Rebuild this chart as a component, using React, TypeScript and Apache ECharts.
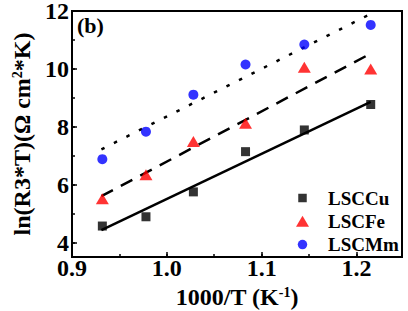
import React, { useEffect, useRef } from "react";
import * as echarts from "echarts";

// 1000/T (K^-1) for each measuring temperature
const invT = [0.932, 0.978, 1.028, 1.083, 1.145, 1.215];

// ln(R3*T) values per cathode
const lsccu = [4.57, 4.89, 5.75, 7.14, 7.89, 8.77];
const lscfe = [5.51, 6.34, 7.49, 8.12, 10.06, 10.0];
const lscmm = [6.88, 7.83, 9.11, 10.15, 10.84, 11.52];

// Linear fit end points
const fitX = [0.931, 1.215];
const fitCu = [4.43, 8.86];
const fitFe = [5.6, 10.53];
const fitMmX = [0.931, 1.212];
const fitMm = [7.22, 11.85];

const seriesNames = ["LSCCu", "LSCFe", "LSCMm"];
const xTickLabels = ["0.9", "1.0", "1.1", "1.2"];
const yTickLabels = ["4", "6", "8", "10", "12"];

// Legend icons share one 13x11 frame (leading moves fix the bounds) so the
// marks keep their own sizes inside the legend box.
const legendIcons = [
  "path://M0,0M13,11M2.25,1.25h8.5v8.5h-8.5z",
  "path://M0,0M13,11M6.5,0L13,11L0,11z",
  "path://M0,0M13,11M1.75,5.5a4.75,4.75 0 1,0 9.5,0a4.75,4.75 0 1,0 -9.5,0z",
];

const FONT = "'Liberation Serif', 'Times New Roman', serif";

const pairs = (xs: number[], ys: number[]) => xs.map((x, i) => [x, ys[i]]);

export default function App() {
  const ref = useRef<HTMLDivElement>(null);

  useEffect(() => {
    document.body.style.margin = "0";
    if (!ref.current) return;
    const chart = echarts.init(ref.current, null, { renderer: "svg" });

    const xFmt = (v: number) => {
      const s = v.toFixed(1);
      return Math.abs(v - parseFloat(s)) < 1e-6 && xTickLabels.includes(s) ? s : "";
    };
    const yFmt = (v: number) => {
      const s = String(Math.round(v));
      return Math.abs(v - Math.round(v)) < 1e-6 && yTickLabels.includes(s) ? s : "";
    };

    const fitLine = (xs: number[], ys: number[], type: any) => ({
      type: "line",
      data: pairs(xs, ys),
      showSymbol: false,
      symbol: "none",
      silent: true,
      lineStyle: { color: "#000", width: 2.5, type },
      z: 2,
    });

    const bold = { fontFamily: FONT, fontWeight: "bold" as const, color: "#000" };

    chart.setOption({
      animation: false,
      backgroundColor: "#fff",
      grid: {
        left: 72,
        right: 6,
        top: 11,
        bottom: 54,
        show: true,
        borderColor: "#000",
        borderWidth: 2,
        backgroundColor: "transparent",
        outerBoundsMode: "none",
      },
      xAxis: [
        {
          type: "value",
          min: 0.9,
          max: 1.248,
          interval: 0.05,
          axisLine: { show: true, lineStyle: { color: "#000", width: 2 } },
          axisTick: { show: true, inside: true, length: 3, lineStyle: { color: "#000", width: 1.5 } },
          axisLabel: {
            ...bold,
            formatter: xFmt,
            fontSize: 24,
            lineHeight: 20,
            margin: 1,
            showMaxLabel: false,
          },
          splitLine: { show: false },
          name: "{a|1000/T (K}{s|-1}{a|)}",
          nameLocation: "middle",
          nameGap: 23,
          nameTextStyle: {
            rich: {
              a: { ...bold, fontSize: 24, lineHeight: 22 },
              s: { ...bold, fontSize: 14, verticalAlign: "top", lineHeight: 22 },
            },
          },
        },
        {
          type: "value",
          min: 0.9,
          max: 1.248,
          interval: 0.1,
          position: "bottom",
          axisLine: { show: false },
          axisTick: { show: true, inside: true, length: 5, lineStyle: { color: "#000", width: 1.5 } },
          axisLabel: { show: false },
          splitLine: { show: false },
        },
      ],
      yAxis: [
        {
          type: "value",
          min: 3.5,
          max: 12,
          splitNumber: 8,
          axisLine: { show: true, lineStyle: { color: "#000", width: 2 } },
          axisTick: { show: true, inside: true, length: 3, lineStyle: { color: "#000", width: 1.5 } },
          axisLabel: {
            ...bold,
            formatter: yFmt,
            fontSize: 24,
            lineHeight: 16,
            margin: 3,
          },
          splitLine: { show: false },
          name: "{a|ln(R3*T)(Ω cm}{s|2}{a|*K)}",
          nameLocation: "middle",
          nameRotate: 90,
          nameGap: 35,
          nameTextStyle: {
            rich: {
              a: { ...bold, fontSize: 24, lineHeight: 24 },
              s: { ...bold, fontSize: 14, verticalAlign: "top", lineHeight: 24 },
            },
          },
        },
        {
          type: "value",
          min: 3.5,
          max: 12,
          splitNumber: 4,
          position: "left",
          offset: 0,
          axisLine: { show: false },
          axisTick: { show: true, inside: true, length: 5, lineStyle: { color: "#000", width: 1.5 } },
          axisLabel: { show: false },
          splitLine: { show: false },
        },
      ],
      legend: {
        data: seriesNames.map((name, i) => ({ name, icon: legendIcons[i] })),
        orient: "vertical",
        left: 291,
        top: 183,
        itemWidth: 13,
        itemHeight: 11,
        itemGap: 3.3,
        textStyle: {
          ...bold,
          fontSize: 19,
          lineHeight: 20,
          padding: [0, 0, 0, 14],
        },
      },
      graphic: [
        {
          type: "text",
          left: 77,
          top: 14,
          style: { text: "(b)", font: `bold 22px ${FONT}`, fill: "#000" },
        },
      ],
      series: [
        fitLine(fitX, fitCu, "solid"),
        fitLine(fitX, fitFe, [13, 9]),
        fitLine(fitMmX, fitMm, [3.5, 10.5]),
        {
          name: "LSCCu",
          type: "scatter",
          symbol: "rect",
          symbolSize: 9,
          itemStyle: { color: "#000" },
          data: pairs(invT, lsccu),
          z: 3,
        },
        {
          name: "LSCFe",
          type: "scatter",
          symbol: "triangle",
          symbolSize: [13, 11],
          itemStyle: { color: "#ff0000" },
          data: pairs(invT, lscfe),
          z: 3,
        },
        {
          name: "LSCMm",
          type: "scatter",
          symbol: "circle",
          symbolSize: 10,
          itemStyle: { color: "#0000ff" },
          data: pairs(invT, lscmm),
          z: 3,
        },
      ],
    });

    return () => chart.dispose();
  }, []);

  return (
    <div
      ref={ref}
      style={{ position: "absolute", left: 0, top: 0, width: 408, height: 311 }}
    />
  );
}
